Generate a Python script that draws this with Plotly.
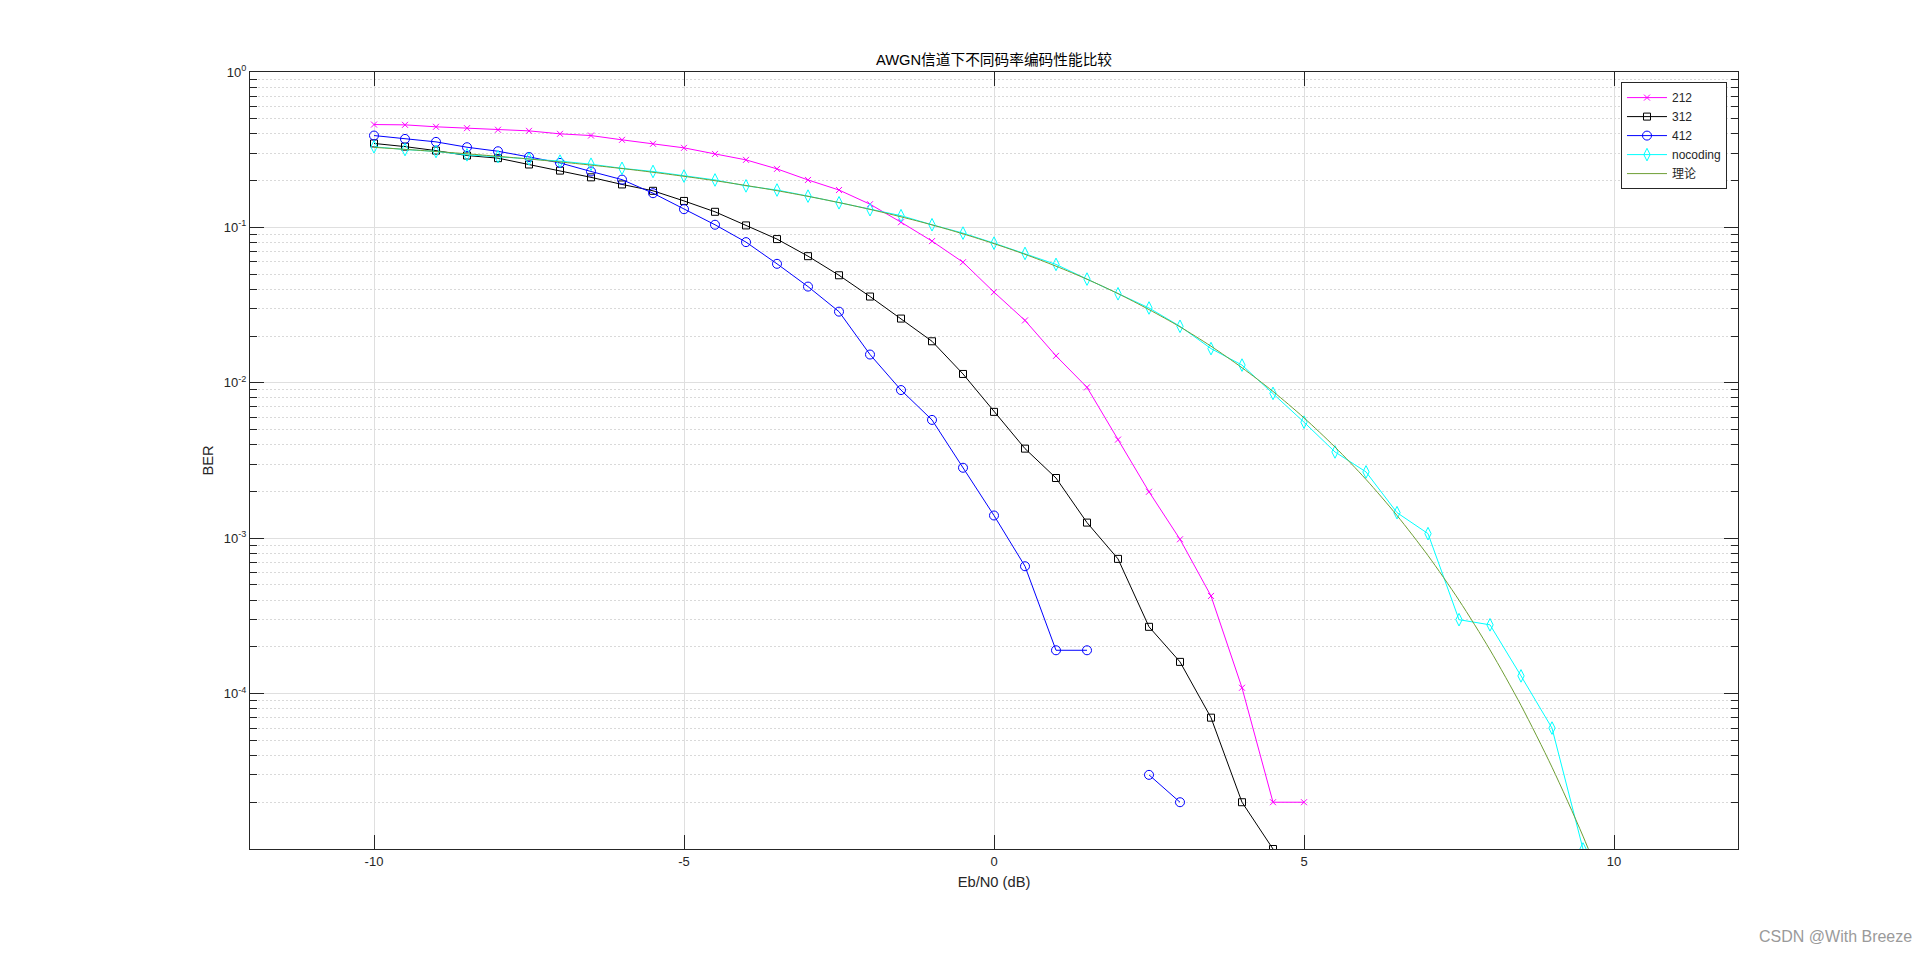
import plotly.graph_objects as go

# ---------------- data ----------------
EbN0 = [-10, -9.5, -9, -8.5, -8, -7.5, -7, -6.5, -6, -5.5,
        -5, -4.5, -4, -3.5, -3, -2.5, -2, -1.5, -1, -0.5,
        0, 0.5, 1, 1.5, 2, 2.5, 3, 3.5, 4, 4.5,
        5, 5.5, 6, 6.5, 7, 7.5, 8, 8.5, 9, 9.5, 10]

ber_212 = [0.459, 0.457, 0.444, 0.435, 0.425, 0.418, 0.400, 0.390, 0.366, 0.345,
           0.325, 0.297, 0.272, 0.238, 0.202, 0.174, 0.141, 0.108, 0.0816, 0.0597,
           0.0383, 0.0252, 0.0149, 0.00935, 0.00431, 0.00199, 0.000984, 0.000425, 0.000109, 2e-5,
           2e-5, None, None, None, None, None, None, None, None, None, None]

ber_312 = [0.347, 0.331, 0.312, 0.290, 0.279, 0.254, 0.232, 0.210, 0.189, 0.172,
           0.148, 0.126, 0.103, 0.0841, 0.0653, 0.0492, 0.0359, 0.0259, 0.0185, 0.0114,
           0.0065, 0.00377, 0.00244, 0.00126, 0.000736, 0.000269, 0.000160, 7e-5, 2e-5, 1e-5,
           None, None, None, None, None, None, None, None, None, None, None]

ber_412 = [0.390, 0.371, 0.355, 0.328, 0.309, 0.284, 0.260, 0.229, 0.203, 0.166,
           0.131, 0.104, 0.0804, 0.0583, 0.0416, 0.0287, 0.0152, 0.00898, 0.00577, 0.00284,
           0.0014, 0.00066, 0.00019, 0.00019, None, 3e-5, 2e-5, None, None, None,
           None, None, None, None, None, None, None, None, None, None, None]

ber_nocoding = [0.330, 0.317, 0.308, 0.293, 0.285, 0.276, 0.267, 0.255, 0.240, 0.229,
                0.214, 0.202, 0.185, 0.174, 0.159, 0.144, 0.130, 0.119, 0.104, 0.0919,
                0.0792, 0.0680, 0.0578, 0.0465, 0.0374, 0.0303, 0.0231, 0.0166, 0.0130, 0.00855,
                0.00558, 0.00359, 0.00267, 0.00146, 0.00107, 0.000299, 0.000277, 0.000130, 6e-5, 1e-5,
                None]

ber_theory = [0.3274, 0.3179, 0.3079, 0.2975, 0.2867, 0.2755, 0.2638, 0.2517, 0.2392, 0.2264,
              0.2132, 0.1998, 0.1861, 0.1723, 0.1584, 0.1445, 0.1306, 0.1170, 0.1038, 0.0909,
              0.0786, 0.0671, 0.0563, 0.0464, 0.0375, 0.0296, 0.0229, 0.0172, 0.0125, 0.00880,
              0.00595, 0.00386, 0.00239, 0.00140, 0.000773, 0.000399, 0.000191, 8.4e-5, 3.36e-5, 1.21e-5,
              3.87e-6]

series_names = ["212", "312", "412", "nocoding", "理论"]

x_tickvals = [-10, -5, 0, 5, 10]
x_ticktext = ["-10", "-5", "0", "5", "10"]
y_tickvals = [1, 0.1, 0.01, 0.001, 0.0001]
y_ticktext = ["10<sup>0</sup>", "10<sup>-1</sup>", "10<sup>-2</sup>", "10<sup>-3</sup>", "10<sup>-4</sup>"]

title_text = "AWGN信道下不同码率编码性能比较"
x_title = "Eb/N0 (dB)"
y_title = "BER"
watermark = "CSDN @With Breeze"

# ---------------- figure ----------------
FONT = "Liberation Sans, Arial, Noto Sans CJK SC, sans-serif"
AX = "#262626"

fig = go.Figure()
fig.add_trace(go.Scatter(x=EbN0, y=ber_212, name=series_names[0], mode="lines+markers",
                         line=dict(color="#FF00FF", width=1),
                         marker=dict(symbol="x-thin-open", size=6, color="#FF00FF",
                                     line=dict(color="#FF00FF", width=1))))
fig.add_trace(go.Scatter(x=EbN0, y=ber_312, name=series_names[1], mode="lines+markers",
                         line=dict(color="#000000", width=1),
                         marker=dict(symbol="square-open", size=7, color="#000000",
                                     line=dict(color="#000000", width=1))))
fig.add_trace(go.Scatter(x=EbN0, y=ber_412, name=series_names[2], mode="lines+markers",
                         line=dict(color="#0000FF", width=1),
                         marker=dict(symbol="circle-open", size=9, color="#0000FF",
                                     line=dict(color="#0000FF", width=1))))
fig.add_trace(go.Scatter(x=EbN0, y=ber_nocoding, name=series_names[3], mode="lines+markers",
                         line=dict(color="#00FFFF", width=1),
                         marker=dict(symbol="diamond-tall-open", size=9, color="#00FFFF",
                                     line=dict(color="#00FFFF", width=1))))
fig.add_trace(go.Scatter(x=EbN0, y=ber_theory, name=series_names[4], mode="lines",
                         line=dict(color="#6E9E34", width=1, shape="spline", smoothing=0.8)))

fig.update_layout(
    width=1920, height=954,
    margin=dict(l=250, r=182, t=72, b=105),
    paper_bgcolor="white", plot_bgcolor="white",
    font=dict(family=FONT, size=13, color=AX),
    title=dict(text=title_text, x=0.5, xref="paper", xanchor="center",
               y=1 - 60 / 954, yref="container", yanchor="middle",
               font=dict(family=FONT, size=14.7, color="#000000")),
    showlegend=True,
    legend=dict(x=0.9926, y=0.987, xanchor="right", yanchor="top",
                bgcolor="white", bordercolor=AX, borderwidth=1,
                font=dict(family=FONT, size=12, color=AX),
                itemwidth=40, tracegroupgap=0),
)

fig.update_xaxes(
    range=[-12, 12], tickmode="array", tickvals=x_tickvals, ticktext=x_ticktext,
    ticks="inside", ticklen=14, tickcolor=AX, tickwidth=1,
    showline=True, linecolor=AX, linewidth=1, mirror="ticks",
    showgrid=True, gridcolor="#dfdfdf", gridwidth=1, zeroline=False,
    tickfont=dict(family=FONT, size=13, color=AX),
    title=dict(text=x_title, font=dict(family=FONT, size=14.7, color=AX), standoff=9),
)
fig.update_yaxes(
    type="log", range=[-5, 0], tickmode="array", tickvals=y_tickvals, ticktext=y_ticktext,
    ticks="inside", ticklen=14, tickcolor=AX, tickwidth=1,
    showline=True, linecolor=AX, linewidth=1, mirror="ticks",
    showgrid=True, gridcolor="#dfdfdf", gridwidth=1, zeroline=False,
    tickfont=dict(family=FONT, size=13, color=AX),
    minor=dict(dtick="D1", ticks="inside", ticklen=7, tickcolor=AX, tickwidth=1,
               showgrid=True, gridcolor="#d9d9d9", griddash="2px,2px", gridwidth=1),
    title=dict(text=y_title, font=dict(family=FONT, size=14.7, color=AX), standoff=6),
)

fig.add_annotation(text=watermark, xref="paper", yref="paper",
                   x=(1914 - 250) / 1488, y=(849 - 937) / 777,
                   xanchor="right", yanchor="middle", showarrow=False,
                   font=dict(family=FONT, size=16, color="#9a9a9a"))

fig.write_html("out.html", config={"displayModeBar": False},
               post_script="document.body.style.margin='0';document.body.style.overflow='hidden';")
